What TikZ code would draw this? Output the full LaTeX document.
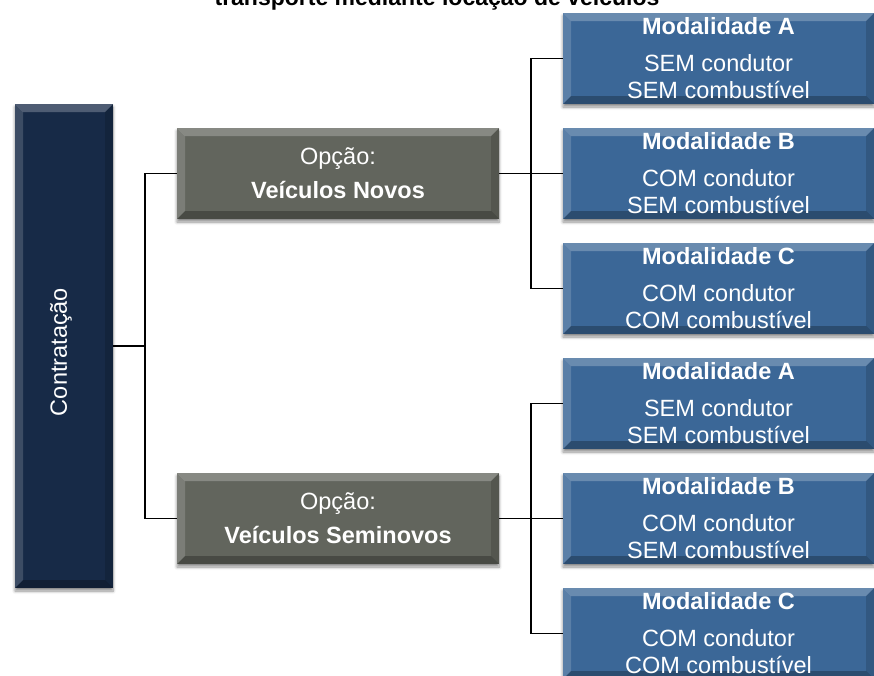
\documentclass[tikz,border=0pt]{standalone}
\usepackage{fontspec}
\setmainfont{Liberation Sans}
\usetikzlibrary{shadows.blur}
\definecolor{boxblue}{HTML}{3B6797}
\definecolor{boxnavy}{HTML}{172A47}
\definecolor{boxgray}{HTML}{62655D}
\tikzset{
  bevel/.style={path picture={
    \fill[white,opacity=0.24] (path picture bounding box.north west) -- (path picture bounding box.north east)
       -- ([xshift=-8pt,yshift=-8pt]path picture bounding box.north east) -- ([xshift=8pt,yshift=-8pt]path picture bounding box.north west) -- cycle;
    \fill[white,opacity=0.16] (path picture bounding box.north west) -- (path picture bounding box.south west)
       -- ([xshift=8pt,yshift=8pt]path picture bounding box.south west) -- ([xshift=8pt,yshift=-8pt]path picture bounding box.north west) -- cycle;
    \fill[black,opacity=0.14] (path picture bounding box.north east) -- (path picture bounding box.south east)
       -- ([xshift=-8pt,yshift=8pt]path picture bounding box.south east) -- ([xshift=-8pt,yshift=-8pt]path picture bounding box.north east) -- cycle;
    \fill[black,opacity=0.26] (path picture bounding box.south west) -- (path picture bounding box.south east)
       -- ([xshift=-8pt,yshift=8pt]path picture bounding box.south east) -- ([xshift=8pt,yshift=8pt]path picture bounding box.south west) -- cycle;
  }},
  basebox/.style={rectangle, inner sep=0pt, text=white, align=center, bevel,
    blur shadow={shadow xshift=0pt, shadow yshift=-3pt, shadow blur steps=6, shadow opacity=45, shadow blur radius=3pt},
    font=\fontsize{23.5}{27}\selectfont},
  modbox/.style={basebox, fill=boxblue, minimum width=311pt, minimum height=91pt},
  optbox/.style={basebox, fill=boxgray, minimum width=322pt, minimum height=91pt},
  rootbox/.style={basebox, fill=boxnavy, minimum width=98pt, minimum height=484pt},
  conn/.style={draw=black, line width=1.8pt},
}
\begin{document}
\begin{tikzpicture}[x=1pt,y=1pt]
\useasboundingbox (0,0) rectangle (874,-675);

\node[anchor=base, font=\bfseries\fontsize{23}{27}\selectfont] (title) at (437,-5) {transporte mediante locação de veículos};

\node[rootbox] (root) at (64,-346) {};
\node[rotate=90, text=white, font=\fontsize{23.5}{27}\selectfont] (roottxt) at (61,-352) {Contratação};

\node[optbox] (opt1) at (338,-173.5) {Opção:\\[7pt]\textbf{Veículos Novos}};
\node[optbox] (opt2) at (338,-518.5) {Opção:\\[7pt]\textbf{Veículos Seminovos}};

\node[modbox] (a1) at (718.5,-58.5)  {\textbf{Modalidade A}\\[10pt]SEM condutor\\SEM combustível};
\node[modbox] (b1) at (718.5,-173.5) {\textbf{Modalidade B}\\[10pt]COM condutor\\SEM combustível};
\node[modbox] (c1) at (718.5,-288.5) {\textbf{Modalidade C}\\[10pt]COM condutor\\COM combustível};
\node[modbox] (a2) at (718.5,-403.5) {\textbf{Modalidade A}\\[10pt]SEM condutor\\SEM combustível};
\node[modbox] (b2) at (718.5,-518.5) {\textbf{Modalidade B}\\[10pt]COM condutor\\SEM combustível};
\node[modbox] (c2) at (718.5,-633.5) {\textbf{Modalidade C}\\[10pt]COM condutor\\COM combustível};

\coordinate (j0) at (145,-346);
\draw[conn] (root.east) -- (j0);
\draw[conn] (opt1.west) -| (j0);
\draw[conn] (opt2.west) -| (j0);

\coordinate (j1) at (531,-173.5);
\draw[conn] (opt1.east) -- (b1.west);
\draw[conn] (a1.west) -| (j1);
\draw[conn] (c1.west) -| (j1);

\coordinate (j2) at (531,-518.5);
\draw[conn] (opt2.east) -- (b2.west);
\draw[conn] (a2.west) -| (j2);
\draw[conn] (c2.west) -| (j2);
\end{tikzpicture}
\end{document}
